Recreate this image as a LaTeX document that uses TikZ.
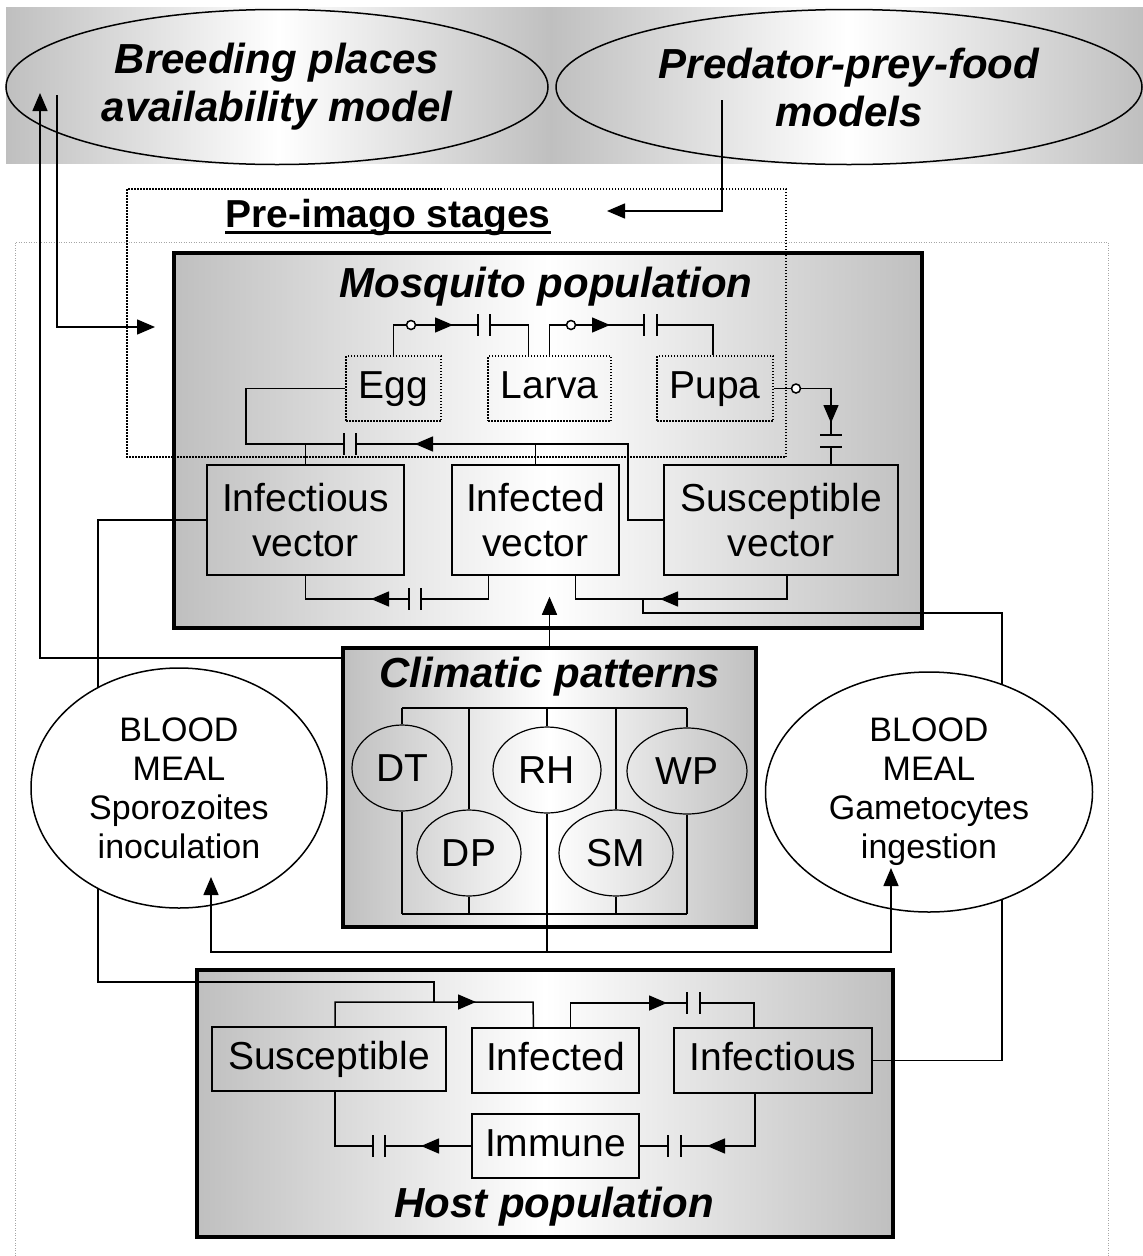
\documentclass[tikz,border=0pt]{standalone}
\usepackage{fontspec}
\setmainfont{Liberation Sans}
\usetikzlibrary{arrows.meta,shapes.geometric}

\newcommand\bodyfont{\fontsize{39}{45}\selectfont}
\newcommand\mealfont{\fontsize{34}{39}\selectfont}
\newcommand\titlefont{\fontsize{42}{48}\selectfont\bfseries\itshape}

\tikzset{
  link/.style={line width=1.5pt},
  flow/.style={link,-{Triangle[length=18pt,width=15pt]}},
  popbox/.style={draw,line width=4.5pt,inner sep=0pt,left color=black!25,right color=black!25,middle color=white},
  oneline/.style={text height=28pt,text depth=8pt},
  stagebox/.style={draw,line width=1.2pt,dash pattern=on 1.5pt off 1.5pt,inner sep=0pt,oneline,font=\bodyfont},
  compbox/.style={draw,line width=1.5pt,inner sep=0pt,align=center,font=\bodyfont},
  climvar/.style={draw,ellipse,line width=1.2pt,inner sep=0pt,minimum height=86pt,font=\bodyfont},
  meal/.style={draw,ellipse,fill=white,line width=1.5pt,inner sep=0pt,align=center,font=\mealfont},
  model/.style={draw,ellipse,line width=1.5pt,inner sep=0pt,align=center,font=\titlefont},
  poptitle/.style={anchor=base,inner sep=0pt,font=\titlefont}
}

% plates of a delay on a horizontal / vertical flow, and a tap
\newcommand\valveH[3]{\draw[link] (#1,#3-11) -- (#1,#3+11) (#2,#3-11) -- (#2,#3+11);}
\newcommand\valveV[3]{\draw[link] (#3-11,#1) -- (#3+11,#1) (#3-11,#2) -- (#3+11,#2);}
\newcommand\knob[2]{\draw[link,fill=white] (#1,#2) circle (4.5pt);}

\begin{document}
\begin{tikzpicture}[x=1pt,y=-1pt]
\useasboundingbox (0,0) rectangle (1143,1256);

% outside models
\shade[left color=black!25,right color=black!25,middle color=white] (6,7) rectangle (551,163);
\shade[left color=black!25,right color=black!25,middle color=white] (551,7) rectangle (1143,163);
\node[model,minimum width=542pt,minimum height=155pt] (breed) at (277,87) {Breeding places\\availability model};
\node[model,minimum width=586pt,minimum height=155pt] (pred) at (849,87) {Predator-prey-food\\models};

% whole system frame
\draw[gray!70,line width=1pt,dash pattern=on 1pt off 1.5pt] (15,1256) |- (1108,242) -- (1108,1256);

% mosquito population
\node[popbox,minimum width=748pt,minimum height=375pt] (mosq) at (548,440.5) {};
\node[poptitle] at (546,297) {Mosquito population};
\node[stagebox,minimum width=95pt,minimum height=65pt] (egg) at (393.5,388.5) {Egg};
\node[stagebox,minimum width=123pt,minimum height=65pt] (larva) at (549.5,388.5) {Larva};
\node[stagebox,minimum width=116pt,minimum height=65pt] (pupa) at (715,388.5) {Pupa};
\node[compbox,minimum width=197pt,minimum height=110pt] (infv) at (305.5,520) {Infectious\\vector};
\node[compbox,minimum width=167pt,minimum height=110pt] (infdv) at (535.5,520) {Infected\\vector};
\node[compbox,minimum width=234pt,minimum height=110pt] (susv) at (781,520) {Susceptible\\vector};

% pre-imago frame
\draw[line width=1.2pt,dash pattern=on 1.5pt off 1.5pt] (127,189) rectangle (786,457);
\node[font=\bodyfont\bfseries,anchor=base,inner sep=0pt] (pretitle) at (388,227) {Pre-imago stages};
\draw[line width=3pt] ([yshift=-5pt]pretitle.base west) -- ([yshift=-5pt]pretitle.base east);

% egg -> larva -> pupa
\draw[link] (egg.north) |- (478,325);
\draw[link] (490,325) -| ([xshift=-21pt]larva.north);
\knob{411}{325}
\draw[flow] (435,325) -- (453,325);
\valveH{478}{490}{325}
\draw[link] (larva.north) |- (644,325);
\draw[link] (657,325) -| ([xshift=-2pt]pupa.north);
\knob{571}{325}
\draw[flow] (592,325) -- (610,325);
\valveH{644}{657}{325}

% pupa -> susceptible vector
\draw[link] (pupa.east) -| (831,435);
\draw[link] (831,447) -- ([xshift=50pt]susv.north);
\knob{796}{388.5}
\draw[flow] (831,405) -- (831,423);
\valveV{435}{447}{831}

% oviposition
\coordinate (ovi) at (246,444);
\draw[link] (egg.west) -| (ovi) -- (344,444);
\draw[link] (356,444) -- (628,444) |- (susv.west);
\draw[link] (infv.north) -- (infv.north |- ovi);
\draw[link] (infdv.north) -- (infdv.north |- ovi);
\draw[flow] (433,444) -- (415,444);
\valveH{344}{356}{444}

% vector infection
\draw[link] (infv.south) |- (409,599);
\draw[link] (421,599) -| ([xshift=-47pt]infdv.south);
\draw[flow] (390,599) -- (371,599);
\valveH{409}{421}{599}
\draw[link] ([xshift=40pt]infdv.south) |- (787,599) -- ([xshift=6pt]susv.south);
\draw[flow] (679,599) -- (660,599);

% climatic patterns
\node[popbox,minimum width=413pt,minimum height=279pt] (clim) at (549.5,787.5) {};
\node[poptitle] at (550,687) {Climatic patterns};
\coordinate (ctop) at (0,708);
\coordinate (cbot) at (0,914);
\foreach \nm/\x/\y/\w in {DT/402/768/100, DP/469/853/104, RH/547/770/108, SM/616/853/114, WP/687/771/120} {
  \node[climvar,minimum width=\w pt] (\nm) at (\x,\y) {\nm};
  \draw[link] (\nm.north) -- (\nm.north |- ctop);
  \draw[link] (\nm.south) -- (\nm.south |- cbot);
}
\draw[link] (DT.north |- ctop) -- (WP.north |- ctop);
\draw[link] (DT.south |- cbot) -- (WP.south |- cbot);
\draw[flow] (clim.north) -- ++(0,-49);
\draw[flow] ([yshift=-12pt]clim.north west) -| (40,93);

% host population
\node[popbox,minimum width=696pt,minimum height=267pt] (host) at (545,1103.5) {};
\node[poptitle] at (554,1217) {Host population};
\node[compbox,oneline,minimum width=234pt,minimum height=64pt] (hsus) at (329,1059) {Susceptible};
\node[compbox,oneline,minimum width=167pt,minimum height=65pt] (hinf) at (555.5,1060.5) {Infected};
\node[compbox,oneline,minimum width=198pt,minimum height=65pt] (hinfs) at (773,1060.5) {Infectious};
\node[compbox,oneline,minimum width=167pt,minimum height=64pt] (himm) at (555.5,1146) {Immune};

\draw[link] ([xshift=6pt]hsus.north) |- (533,1002) -- ([xshift=-22pt]hinf.north);
\draw[flow] (457,1002) -- (476,1002);
\draw[link] ([xshift=15pt]hinf.north) |- (687,1003);
\draw[link] (700,1003) -| ([xshift=-19pt]hinfs.north);
\draw[flow] (648,1003) -- (667,1003);
\valveH{687}{700}{1003}
\draw[link] ([xshift=-18pt]hinfs.south) |- (681,1146);
\draw[link] (668,1146) -- (himm.east);
\draw[flow] (726,1146) -- (707,1146);
\valveH{668}{681}{1146}
\draw[link] (himm.west) -- (385,1146);
\draw[link] (373,1146) -| ([xshift=6pt]hsus.south);
\draw[flow] (441,1146) -- (421,1146);
\valveH{373}{385}{1146}

% outside model inputs
\coordinate (bpout) at (57,95);
\draw[flow] (bpout) |- (155,327);
\coordinate (ppout) at (722,100);
\draw[flow] (ppout) |- (607,211);

% blood meals
\draw[link] (infv.west) -| (98,982) -| (434,1002);
\draw[link] (hinfs.east) -| (1002,613) -| (643,599);
\node[meal,minimum width=296pt,minimum height=240pt] (spor) at (179,788) {BLOOD\\MEAL\\Sporozoites\\inoculation};
\node[meal,minimum width=327pt,minimum height=240pt] (gam) at (929,792) {BLOOD\\MEAL\\Gametocytes\\ingestion};
\coordinate (mealjoin) at (547,952);
\draw[link] (RH.south |- cbot) -- (mealjoin);
\draw[flow] (mealjoin) -| (211,877);
\draw[flow] (mealjoin) -| (891,868);

\end{tikzpicture}
\end{document}
